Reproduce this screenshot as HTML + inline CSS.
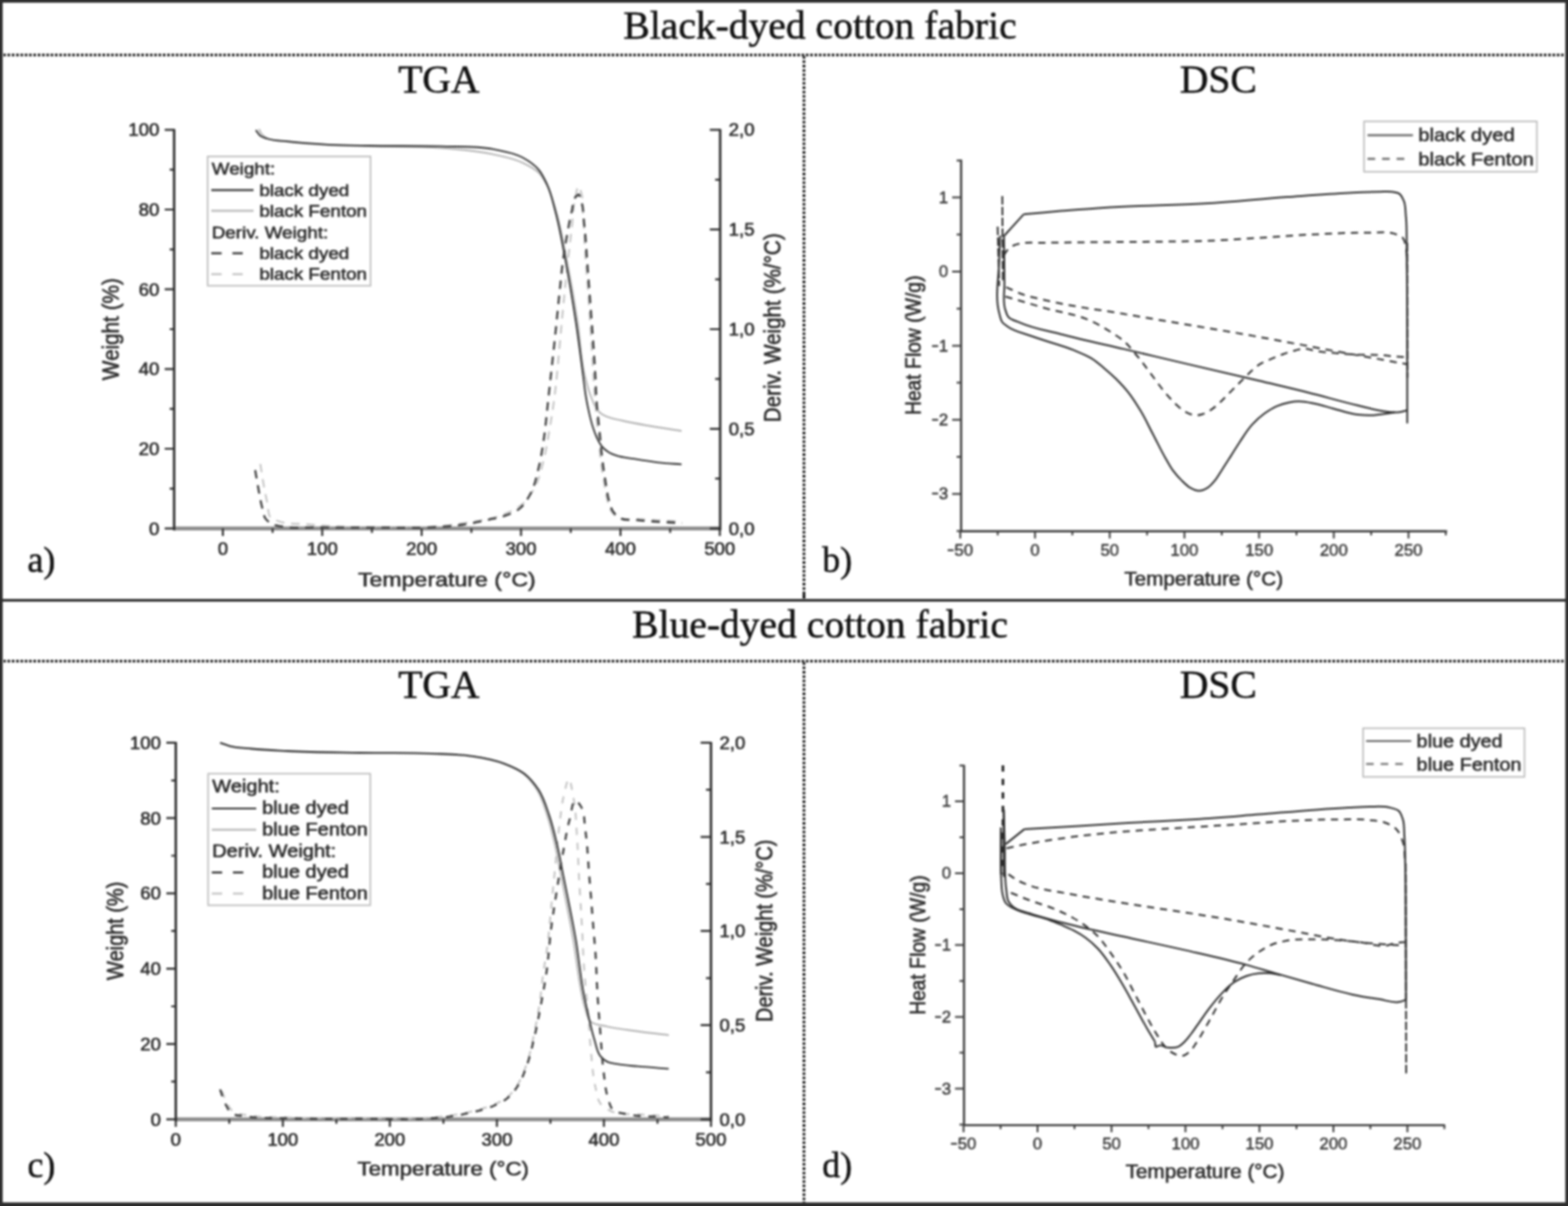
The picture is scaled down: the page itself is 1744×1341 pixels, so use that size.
<!DOCTYPE html>
<html lang="en">
<head>
<meta charset="utf-8">
<title>TGA and DSC of black-dyed and blue-dyed cotton fabric</title>
<style>
html,body{margin:0;padding:0;background:#fff;overflow:hidden;}
body{width:1744px;height:1341px;overflow:hidden;position:relative;font-family:"Liberation Serif", serif;color:#111;}
#figure{position:absolute;left:0;top:0;width:1744px;height:1341px;box-sizing:border-box;background:#fff;overflow:hidden;}
.frame{position:absolute;background:#2e2e2e;filter:blur(0.8px);}
svg.rules{filter:blur(0.8px);}
h1,h2{margin:0;font-weight:normal;position:absolute;white-space:nowrap;line-height:1;text-align:center;}
h1{font-size:44px;left:0;width:1824px;}
h2{font-size:44px;width:300px;}
.tag{position:absolute;font-size:40px;line-height:1;white-space:nowrap;}
svg{position:absolute;left:0;top:0;overflow:visible;filter:blur(1px);}
svg text{font-family:"Liberation Sans", sans-serif;fill:#2b2b2b;stroke:#2b2b2b;stroke-width:0.6px;stroke-linejoin:round;}
h1,h2,.tag{filter:blur(0.8px);-webkit-text-stroke:0.55px #111;}
svg text.n{fill:#3d3d3d;stroke:#3d3d3d;stroke-width:0.55px;}
svg path{fill:none;}
</style>
</head>
<body>
<main id="figure">
<div class="frame" style="left:-6px;top:-6px;width:1756px;height:8.7px"></div>
<div class="frame" style="left:-6px;top:-6px;width:9.2px;height:1353px"></div>
<div class="frame" style="left:1740.5px;top:-6px;width:9px;height:1353px"></div>
<div class="frame" style="left:-6px;top:1337.1px;width:1756px;height:9px"></div>
<div class="frame" style="left:-6px;top:666.1px;width:1756px;height:3.1px"></div>
<svg class="rules" width="1744" height="1341" viewBox="0 0 1744 1341" aria-hidden="true"><g stroke="#000" stroke-width="2.8" stroke-dasharray="2.8 2"><path d="M3.6 61.1H1741"/><path d="M3.6 735.1H1741"/><path d="M894.2 62.5V666"/><path d="M894.2 660.2V666"/><path d="M894.2 736.5V1338"/></g></svg>
<h1 style="top:7.2px">Black-dyed cotton fabric</h1>
<h1 style="top:673.2px">Blue-dyed cotton fabric</h1>
<h2 style="left:338.2px;top:67.4px">TGA</h2>
<h2 style="left:1205.0px;top:67.4px">DSC</h2>
<h2 style="left:338.2px;top:740.4px">TGA</h2>
<h2 style="left:1205.0px;top:740.4px">DSC</h2>
<div class="tag" style="left:30.6px;top:602.7px">a)</div>
<div class="tag" style="left:914.5px;top:602.7px">b)</div>
<div class="tag" style="left:30.6px;top:1276.2px">c)</div>
<div class="tag" style="left:914.5px;top:1276.2px">d)</div>
<svg width="1744" height="1341" viewBox="0 0 1744 1341" role="img" aria-label="TGA of black-dyed cotton fabric">
<g stroke-linecap="butt" stroke-linejoin="round">
<path d="M193.7 587.6H801" stroke="#8a8a8a" stroke-width="4.3"/>
<path d="M288 143.5C289 145.3 289.7 147.4 291 149C292.6 150.9 294.9 152.3 297 153.5C303.4 157.3 311.9 156.4 319.4 157.5C334.5 159.7 349.9 160.3 365.2 161.2C380.4 162 395.7 162.2 411 162.6C437.3 163.3 463.8 162.4 490 164.5C509.7 166.1 529.6 167.3 548.8 171.6C559.7 174 571 176 581 180.8C587.4 183.9 594.4 187.2 599.3 192.2C603 196.1 605.8 201.2 608.4 206C613.2 214.9 615.6 225 618.5 234.7C623.9 252.6 626.8 271.3 630.5 289.7C635 312.5 639 335.5 642.5 358.5C645.5 378.3 645.8 398.6 650.5 418C652 424 653.5 430.1 655.5 436C656.8 439.7 658.1 443.4 659.7 446.9C661 449.7 662.1 452.7 663.9 455.1C665.4 457.2 667.3 459.1 669.4 460.6C671.8 462.3 674.8 463.1 677.6 464.1C682.1 465.7 686.8 466.4 691.4 467.5C700.5 469.6 709.7 471.3 718.9 473C731.9 475.4 745 477.1 758.1 479.2" stroke="#b4b4b4" stroke-width="1.9"/>
<path d="M289.5 515.8C290.7 523.1 291.7 530.4 293 537.6C294.4 545.3 295.9 553 297.6 560.6C298.7 565.6 297.7 572.3 301 575.5C303.1 577.6 307.1 578.5 310.2 579.6C320.2 583.2 331.6 582 342.3 583C354.8 584.1 367.4 585 380 585.6C393.3 586.2 406.7 586.2 420 586.3C440 586.4 460.1 587.1 480 585.6C493.4 584.6 506.8 583.3 520 581C534.4 578.5 549.4 576.9 562.6 571C569 568.1 575.8 565.1 581 560.6C586.7 555.7 591.1 548.8 594.7 542.2C599.3 533.8 601.4 524 603.9 514.7C607 503.4 608.7 491.8 610.7 480.3C613.4 465.1 615.7 449.8 617.6 434.4C619 423 619.9 411.5 621 400C622.6 383.1 624 366.3 625.6 349.4C627.1 334.1 628.6 318.8 630.2 303.5C632 286.7 634 269.8 636 253C637.5 240.8 637.5 228.2 640.6 216.3C641.4 213.2 642 206.4 643.3 207.2C644 207.6 644.9 210.2 645.6 211.7C649.3 220.1 647.8 230.1 648.6 239.3C649.8 253 650 266.8 650.9 280.6C652.1 299.7 653.7 318.8 655 337.9C656 353.2 657.1 368.5 658 383.8C658.7 395.2 659.3 406.6 660 418C660.6 427.3 661.3 436.7 662 446C662.9 457.3 663.9 468.7 665 480C666.1 491.6 667 503.2 668.5 514.7C669.5 522.4 670.7 530 672 537.6C673.1 543.8 673.8 550 675.5 556C676.7 560.3 677.5 565 680 568.6C681.8 571.2 684.4 573.8 687 575.5C693 579.3 701.9 576.5 709.4 577C725.8 578.1 742.3 579 758.7 580" stroke="#c2c2c2" stroke-width="2.0" stroke-dasharray="9.5 7.5"/>
<path d="M284.5 144.6C286.2 146.7 287.4 149.4 289.5 151C291.4 152.5 294.1 153.2 296.4 154C303.6 156.6 311.7 156.3 319.4 157.2C334.6 159 349.9 160 365.2 160.8C380.4 161.6 395.7 161.7 411 162C437.3 162.5 463.7 161.8 490 162.7C509.6 163.4 529.7 162.1 548.8 165.9C559.7 168.1 571.4 169.8 581 175C587.6 178.6 594.5 183.1 599.3 188.8C603.2 193.4 605.8 199.3 608.4 204.9C612.8 214.3 614.9 224.7 617.6 234.7C622.5 252.7 625.5 271.3 629 289.7C633.3 312.5 637.1 335.5 640.6 358.5C643.6 378.3 646 398.2 648.6 418C649.6 425.3 650.3 432.7 651.5 440C652.6 446.9 654 453.8 655.6 460.6C656.8 465.7 658 470.8 659.7 475.8C660.9 479.5 662.2 483.3 663.9 486.8C665.5 490.1 667.1 493.6 669.4 496.4C671.7 499.1 674.6 501.5 677.6 503.3C680.1 504.8 683.1 505.8 685.9 506.7C692 508.8 698.7 509.1 705.1 510.2C714.3 511.7 723.5 513.2 732.7 514.3C741.1 515.3 749.6 515.7 758.1 516.4" stroke="#303030" stroke-width="1.85"/>
<path d="M283.8 522.7C284.9 529.2 286 535.7 287.2 542.2C288.6 549.9 289.8 557.6 291.8 565.1C292.8 569 293.1 573.4 295.3 576.6C297 578.9 299.5 581 302 582.5C305.7 584.7 310.6 584.8 315 585.6C327.7 587.9 340.9 586.2 353.8 586.4C375.9 586.7 397.9 586.6 420 586.6C440 586.6 460 587.5 480 586.4C491.5 585.8 503 585.1 514.4 583.5C524.4 582.1 534.3 579.9 544.2 577.7C550.4 576.3 556.7 575.4 562.6 573.2C568.2 571.1 574.2 568.8 578.6 565C583.5 560.9 586.9 554.7 590 549C594.9 540 596.8 529.4 599.3 519.3C601.9 508.8 603.4 497.9 605 487.2C607 473.5 608.1 459.7 609.6 445.9C610.9 433.9 612.2 422 613.5 410C614.9 397.4 616.3 384.9 617.6 372.3C619.2 357 620.6 341.7 622.2 326.4C623.7 312.6 624.8 298.8 626.8 285.1C628.1 275.9 629.7 266.7 631.4 257.6C632.8 249.9 634.1 242.2 636 234.7C637.4 229.3 636.8 222.5 640.6 218.6C641.4 217.8 642.5 216.5 643.3 216.3C644.9 215.9 645.5 220.9 646.3 223.2C649.2 231.1 648.7 240 649.7 248.4C651.4 262.9 652.1 277.5 653.2 292C654.4 307.3 655.5 322.6 656.6 337.9C657.7 353.2 659 368.5 660 383.8C660.7 394.2 661.4 404.6 662 415C662.6 425.3 662.8 435.6 663.5 445.9C664.3 457.4 665.8 468.8 666.9 480.3C668.1 491.8 668.9 503.3 670.4 514.7C671.4 522.4 672.5 530 673.8 537.6C674.8 543.7 675.5 550 677.2 556C678.4 560.3 679.3 565 681.8 568.6C683.6 571.2 686.1 573.8 688.7 575.5C694.3 579.2 702.5 577.6 709.4 578.4C725.7 580.3 742.3 580.6 758.7 581.7" stroke="#3c3c3c" stroke-width="2.3" stroke-dasharray="9.5 7.5"/>
<path d="M193.7 143.4V589.8" stroke="#2e2e2e" stroke-width="2.7"/>
<path d="M801 143.4V589.8" stroke="#2e2e2e" stroke-width="2.7"/>
<path d="M193.7 587.6h-10.5M193.7 543.3h-5M193.7 499h-10.5M193.7 454.6h-5M193.7 410.3h-10.5M193.7 366h-5M193.7 321.7h-10.5M193.7 277.4h-5M193.7 233h-10.5M193.7 188.7h-5M193.7 144.4h-10.5M801 587.6h-11.5M801 532.2h-5.5M801 476.8h-11.5M801 421.4h-5.5M801 366h-11.5M801 310.6h-5.5M801 255.2h-11.5M801 199.8h-5.5M801 144.4h-11.5M303.2 587.6v5M413.7 587.6v5M524.3 587.6v5M634.8 587.6v5M745.4 587.6v5M247.9 587.6v8.5M358.4 587.6v8.5M469 587.6v8.5M579.5 587.6v8.5M690.1 587.6v8.5M800.6 587.6v8.5" stroke="#2e2e2e" stroke-width="2.2"/>
</g>
<text transform="translate(177.2 594.5) scale(1.070 1)" font-size="19.3" text-anchor="end">0</text>
<text transform="translate(177.2 505.9) scale(1.070 1)" font-size="19.3" text-anchor="end">20</text>
<text transform="translate(177.2 417.3) scale(1.070 1)" font-size="19.3" text-anchor="end">40</text>
<text transform="translate(177.2 328.6) scale(1.070 1)" font-size="19.3" text-anchor="end">60</text>
<text transform="translate(177.2 240) scale(1.070 1)" font-size="19.3" text-anchor="end">80</text>
<text transform="translate(177.2 151.3) scale(1.070 1)" font-size="19.3" text-anchor="end">100</text>
<text transform="translate(810.5 594.5) scale(1.070 1)" font-size="19.3">0,0</text>
<text transform="translate(810.5 483.7) scale(1.070 1)" font-size="19.3">0,5</text>
<text transform="translate(810.5 372.9) scale(1.070 1)" font-size="19.3">1,0</text>
<text transform="translate(810.5 262.1) scale(1.070 1)" font-size="19.3">1,5</text>
<text transform="translate(810.5 151.3) scale(1.070 1)" font-size="19.3">2,0</text>
<text transform="translate(247.9 617.2) scale(1.070 1)" font-size="19.3" text-anchor="middle">0</text>
<text transform="translate(358.4 617.2) scale(1.070 1)" font-size="19.3" text-anchor="middle">100</text>
<text transform="translate(469 617.2) scale(1.070 1)" font-size="19.3" text-anchor="middle">200</text>
<text transform="translate(579.5 617.2) scale(1.070 1)" font-size="19.3" text-anchor="middle">300</text>
<text transform="translate(690.1 617.2) scale(1.070 1)" font-size="19.3" text-anchor="middle">400</text>
<text transform="translate(800.6 617.2) scale(1.070 1)" font-size="19.3" text-anchor="middle">500</text>
<text transform="translate(497 651.7) scale(1.120 1)" font-size="23" text-anchor="middle">Temperature (°C)</text>
<text transform="translate(132 366) rotate(-90) scale(1 1.120)" font-size="23" text-anchor="middle">Weight (%)</text>
<text transform="translate(868 364.5) rotate(-90) scale(1 1.120)" font-size="23" text-anchor="middle">Deriv. Weight (%/°C)</text>
<rect x="231" y="174" width="181.2" height="143.7" fill="#fff" stroke="#bcbcbc" stroke-width="1.7"/>
<text transform="translate(235.5 194) scale(1.120 1)" font-size="18.7">Weight:</text>
<path d="M235 211.3H282" stroke="#3a3a3a" stroke-width="2.2"/>
<text transform="translate(288.4 217.6) scale(1.120 1)" font-size="18.7">black dyed</text>
<path d="M235 234.3H282" stroke="#b9b9b9" stroke-width="2.2"/>
<text transform="translate(288.4 240.6) scale(1.120 1)" font-size="18.7">black Fenton</text>
<text transform="translate(235.5 264.5) scale(1.120 1)" font-size="18.7">Deriv. Weight:</text>
<path d="M235 281.7H270" stroke="#333" stroke-width="2.2" stroke-dasharray="11.5 12"/>
<text transform="translate(288.4 288) scale(1.120 1)" font-size="18.7">black dyed</text>
<path d="M235 304.9H270" stroke="#c4c4c4" stroke-width="2.2" stroke-dasharray="11.5 12"/>
<text transform="translate(288.4 311.2) scale(1.120 1)" font-size="18.7">black Fenton</text>
</svg>
<svg width="1744" height="1341" viewBox="0 0 1744 1341" role="img" aria-label="DSC of black-dyed cotton fabric">
<g stroke-linecap="butt" stroke-linejoin="round">
<path d="M1116.5 284C1118 281.8 1119.2 279.3 1121 277.5C1122.8 275.7 1125 274.1 1127.3 273C1130.4 271.4 1134.2 271 1137.7 270.4C1145 269.1 1152.6 270.1 1160 270C1180 269.7 1200 269.5 1220 269.3C1246.7 269 1273.3 269 1300 268.6C1313.3 268.4 1326.7 268.3 1340 267.9C1360 267.2 1380 265.7 1400 264.5C1418.2 263.4 1436.5 261.9 1454.7 261C1477.6 259.9 1500.6 258.4 1523.5 258.8C1532.7 259 1542.5 256.8 1551 259.9C1554.2 261.1 1558.1 262.2 1560.2 264.5C1562.7 267.2 1562.9 272.1 1563.8 276C1565.5 283.8 1564.6 292 1565 300" stroke="#2e2e2e" stroke-width="2.0" stroke-dasharray="8 6.5"/>
<path d="M1119.1 319.3C1124.4 321.7 1129.6 324.4 1135 326.5C1144.5 330.1 1154.7 331.8 1164.6 334.2C1192.7 340.9 1221.5 344.2 1250 349.1C1300 357.7 1350.1 365.6 1400 374.6C1432.1 380.4 1464.2 386.6 1496.3 392.5C1515.5 396 1534.8 399.5 1554 403C1557.7 403.7 1561.3 404.3 1565 405" stroke="#2e2e2e" stroke-width="2.0" stroke-dasharray="8 6.5"/>
<path d="M1118.3 329.7C1133.7 334.2 1149.1 338.9 1164.6 343.2C1179.5 347.3 1195.2 349.1 1209.3 355.1C1219.7 359.5 1229.7 365.2 1239.1 371.5C1243.1 374.2 1247.3 376.8 1250.9 380C1255 383.7 1258.3 388.2 1261.9 392.4C1264.2 395.1 1266.6 397.8 1268.8 400.6C1271.7 404.2 1274.3 408 1277.1 411.7C1279.8 415.4 1282.6 419 1285.3 422.7C1288.1 426.4 1290.7 430.1 1293.6 433.7C1296.2 437 1298.9 440.2 1301.8 443.3C1304.5 446.2 1307.2 449 1310.1 451.6C1312.3 453.5 1314.5 455.6 1317 457.1C1319.2 458.4 1321.5 459.7 1323.9 460.5C1326.1 461.2 1328.4 461.9 1330.7 461.9C1333 461.9 1335.4 461.2 1337.6 460.5C1340.5 459.6 1343.3 458 1345.9 456.4C1349.4 454.3 1352.4 451.5 1355.5 448.8C1358.9 445.8 1361.9 442.4 1365.1 439.2C1368.3 436 1371.6 432.7 1374.8 429.5C1378 426.3 1381.2 423.1 1384.4 419.9C1387.2 417.2 1389.8 414.3 1392.7 411.7C1394.9 409.7 1397.1 407.8 1399.5 406.1C1403.8 403.1 1409 401.3 1413.8 399.2C1418.3 397.2 1422.9 395.3 1427.5 393.7C1432 392.1 1436.6 390.7 1441.3 389.5C1444.2 388.8 1447.1 387.8 1450 387.6C1455 387.3 1460 389.8 1465 390.6C1470.6 391.5 1476.3 391.8 1482 392.3C1491.3 393.1 1500.7 394 1510 394.4C1519.2 394.8 1528.4 394.3 1537.6 395C1542.1 395.3 1546.5 396 1551 396.4C1555.2 396.7 1559.5 396.9 1563.7 397.1" stroke="#2e2e2e" stroke-width="2.0" stroke-dasharray="8 6.5"/>
<path d="M1114.8 218L1115.4 312" stroke="#2e2e2e" stroke-width="2.0" stroke-dasharray="9.5 2.5"/>
<path d="M1109.6 252L1111.4 318" stroke="#2e2e2e" stroke-width="2.0" stroke-dasharray="9.5 2.5"/>
<path d="M1565.2 270L1565.4 420" stroke="#2e2e2e" stroke-width="2.0" stroke-dasharray="9.5 2.5"/>
<path d="M1116.6 262.5L1138.5 238.3" stroke="#2e2e2e" stroke-width="2.0"/>
<path d="M1138.5 238.3C1152.3 237.1 1166.2 235.8 1180 234.6C1193.6 233.5 1207.2 232.3 1220.8 231.4C1230.5 230.8 1240.3 230.3 1250 229.8C1280 228.3 1310 228.1 1340 226.3C1370.6 224.5 1401.1 221.2 1431.7 219C1454.7 217.4 1477.6 215.6 1500.6 214.5C1512.1 214 1523.5 213.3 1535 213.2C1539.3 213.2 1543.7 212.7 1548 213.3C1550.7 213.7 1553.9 213.8 1556 215.2C1558.5 216.8 1560 220.3 1561.3 223.2C1563.5 228 1563 233.9 1563.6 239.3C1565.1 253 1564.4 266.8 1564.6 280.6C1565 303.5 1565 326.5 1565.1 349.4C1565.2 372.9 1565.2 396.5 1565.2 420C1565.2 436.9 1565.2 453.8 1565.2 470.7" stroke="#2e2e2e" stroke-width="2.0"/>
<path d="M1565 456.3C1562.7 456.9 1560.5 457.6 1558.2 458C1556 458.4 1553.7 458.6 1551.4 458.6C1546.8 458.7 1542.2 457.7 1537.6 457C1528.3 455.6 1519.2 453 1510 450.8C1491.6 446.4 1473.4 441.1 1455 436.5C1436.7 431.9 1418.3 427.7 1400 423.3C1373.4 417 1346.7 410.9 1320 404.6C1296.7 399.1 1273.3 393.6 1250 388.1C1226.5 382.6 1202.8 377.7 1179.5 371.5C1164.5 367.5 1148.8 365.1 1134.7 358.8C1130.2 356.8 1124.2 355.8 1121.3 352.1C1119.5 349.7 1118.7 346.2 1117.8 343.2C1115.2 334.3 1117.3 324.4 1117.2 315C1117.1 306.5 1117.1 298 1117 289.5C1116.9 280.5 1116.7 271.5 1116.6 262.5" stroke="#2e2e2e" stroke-width="2.0"/>
<path d="M1112.5 262C1112.1 271.2 1111.6 280.3 1111.4 289.5C1110.9 309.3 1106.2 330 1111.6 349C1112.5 352 1112.8 355.5 1114.6 358C1115.9 359.8 1118 361.1 1119.8 362.5C1128.2 369 1139.6 370.8 1149.6 374.5C1164.3 380 1179.9 383.3 1194.4 389.4C1201 392.2 1207.8 394.7 1213.8 398.4C1218.7 401.4 1223.1 405.2 1227.5 408.9C1232.3 412.8 1236.9 417 1241.3 421.3C1246.1 426.1 1250.8 431.1 1255 436.4C1260.1 442.9 1264.5 450 1268.8 457.1C1273.9 465.5 1278 474.5 1282.6 483.2C1287.2 491.9 1291.4 500.9 1296.3 509.4C1299 514 1301.4 518.8 1304.6 523.1C1307.5 527 1310.7 530.7 1314.2 534.1C1317.2 537.1 1320.2 540.4 1323.9 542.4C1326.8 544 1330.3 545.8 1333.5 545.8C1336.7 545.8 1340.3 544.1 1343.1 542.4C1346.4 540.4 1348.9 537.1 1351.4 534.1C1354.6 530.3 1356.9 525.8 1359.6 521.7C1362.9 516.7 1366.1 511.6 1369.3 506.6C1372.5 501.6 1375.6 496.5 1378.9 491.5C1383.3 484.9 1387.4 478 1392.7 472.2C1396.8 467.7 1401.4 463.4 1406.4 459.8C1410.7 456.7 1415.3 453.7 1420.2 451.6C1424.5 449.7 1429.2 448.3 1433.9 447.4C1437.2 446.8 1440.6 446.3 1444 446.2C1450 446 1456 447.5 1461.9 448.7C1468.9 450.1 1475.7 452.4 1482.6 454.2C1491.7 456.6 1500.7 460 1510 461.1C1514.6 461.6 1519.2 461.9 1523.8 461.8C1528.4 461.7 1533 460.9 1537.6 460.4C1542.2 459.9 1546.8 459.2 1551.4 458.6" stroke="#2e2e2e" stroke-width="2.0"/>
<path d="M1069 177.5V590.8H1609.5" stroke="#3c3c3c" stroke-width="2.4"/>
<path d="M1069 178.4h-5M1069 219.6h-10M1069 260.8h-5M1069 302h-10M1069 343.2h-5M1069 384.4h-10M1069 425.6h-5M1069 466.8h-10M1069 508h-5M1069 549.2h-10M1069 590.4h-5M1068.1 590.8v8M1109.7 590.8v4.5M1151.2 590.8v8M1192.7 590.8v4.5M1234.3 590.8v8M1275.8 590.8v4.5M1317.4 590.8v8M1358.9 590.8v4.5M1400.4 590.8v8M1442 590.8v4.5M1483.5 590.8v8M1525.1 590.8v4.5M1566.6 590.8v8M1608.1 590.8v4.5" stroke="#3c3c3c" stroke-width="2.0"/>
</g>
<text transform="translate(1054.7 225.8) scale(0.980 1)" font-size="19" text-anchor="end" class="n">1</text>
<text transform="translate(1054.7 308.2) scale(0.980 1)" font-size="19" text-anchor="end" class="n">0</text>
<text transform="translate(1054.7 390.6) scale(0.980 1)" font-size="19" text-anchor="end" class="n">1</text>
<text transform="translate(1043.9 390.6) scale(0.686 1)" font-size="19" text-anchor="end" class="n">−</text>
<text transform="translate(1054.7 473) scale(0.980 1)" font-size="19" text-anchor="end" class="n">2</text>
<text transform="translate(1043.9 473) scale(0.686 1)" font-size="19" text-anchor="end" class="n">−</text>
<text transform="translate(1054.7 555.4) scale(0.980 1)" font-size="19" text-anchor="end" class="n">3</text>
<text transform="translate(1043.9 555.4) scale(0.686 1)" font-size="19" text-anchor="end" class="n">−</text>
<text transform="translate(1082.3 618) scale(0.980 1)" font-size="19" text-anchor="end" class="n">50</text>
<text transform="translate(1061.2 618) scale(0.686 1)" font-size="19" text-anchor="end" class="n">−</text>
<text transform="translate(1156.4 618) scale(0.980 1)" font-size="19" text-anchor="end" class="n">0</text>
<text transform="translate(1244.6 618) scale(0.980 1)" font-size="19" text-anchor="end" class="n">50</text>
<text transform="translate(1332.9 618) scale(0.980 1)" font-size="19" text-anchor="end" class="n">100</text>
<text transform="translate(1416 618) scale(0.980 1)" font-size="19" text-anchor="end" class="n">150</text>
<text transform="translate(1499 618) scale(0.980 1)" font-size="19" text-anchor="end" class="n">200</text>
<text transform="translate(1582.1 618) scale(0.980 1)" font-size="19" text-anchor="end" class="n">250</text>
<text transform="translate(1338.8 650.6) scale(1.070 1)" font-size="21.5" text-anchor="middle">Temperature (°C)</text>
<text transform="translate(1024.2 384) rotate(-90) scale(1 1.070)" font-size="21.5" text-anchor="middle">Heat Flow (W/g)</text>
<rect x="1517.2" y="135" width="192.2" height="56" fill="#fff" stroke="#bcbcbc" stroke-width="1.7"/>
<path d="M1521 150.4H1571.5" stroke="#666" stroke-width="2.2"/>
<path d="M1521 176.6H1563.5" stroke="#666" stroke-width="2.2" stroke-dasharray="8.5 7.7"/>
<text transform="translate(1577.4 157.4) scale(1.070 1)" font-size="21">black dyed</text>
<text transform="translate(1577.4 183.6) scale(1.070 1)" font-size="21">black Fenton</text>
</svg>
<svg width="1744" height="1341" viewBox="0 0 1744 1341" role="img" aria-label="TGA of blue-dyed cotton fabric">
<g stroke-linecap="butt" stroke-linejoin="round">
<path d="M195.5 1244.6H790.8" stroke="#8a8a8a" stroke-width="4.3"/>
<path d="M244.8 826.4C248.2 827.5 251.6 828.9 255 829.8C263.1 832 271.6 832.1 280 833C293.1 834.3 306.3 834.8 319.4 835.5C346.2 836.9 373.1 837 400 837.5C426.7 838 453.4 837.1 480 838.3C495.3 839 510.8 838.9 525.9 841.3C537.5 843.1 549.4 845.1 560.3 849.3C567.8 852.2 575.8 855.4 582 860.3C588.1 865.2 593.3 871.9 597.5 878.6C602.7 886.9 605.4 896.8 608.5 906.1C612.3 917.3 614.9 929 617.5 940.5C620.1 951.9 622 963.4 624.3 974.9C626.5 986.4 628.8 997.8 631 1009.3C633.3 1021.5 635.8 1033.7 637.8 1046C639.6 1056.7 640.9 1067.4 642.5 1078.1C643.3 1083.5 644 1089 645 1094.4C646.5 1103 647.9 1111.7 650.5 1120C652.2 1125.3 653 1132.1 656.6 1135.7C660.7 1139.8 668.8 1139.8 675 1141.4C686.2 1144.2 697.9 1145.1 709.4 1146.7C720.8 1148.3 732.3 1149.6 743.8 1151" stroke="#b4b4b4" stroke-width="1.9"/>
<path d="M247 1213C249 1218 250.2 1223.5 253 1228C254.9 1231.1 257.2 1234.5 260 1236.5C264.2 1239.5 270.6 1239.1 276 1240C290.4 1242.5 305.3 1241.9 320 1242.5C346.6 1243.5 373.3 1243 400 1243C426.7 1243 453.5 1244.8 480 1242.5C487.7 1241.8 495.4 1241.2 503 1240C510.7 1238.8 518.4 1237.4 525.9 1235.5C533.6 1233.6 541.5 1231.7 548.8 1228.5C554.4 1226 560.3 1223.4 564.9 1219.5C569.5 1215.6 573.1 1210.2 576.3 1205C580.3 1198.5 582.9 1191.2 585.5 1184C589.5 1173 591.5 1161.4 594 1150C596.3 1139.1 598.3 1128 600 1117C601.9 1104.7 602.7 1092.3 604.5 1080C605.7 1071.7 607.3 1063.5 608.4 1055.2C610.5 1040 611.5 1024.7 613 1009.4C614.5 994.1 616.1 978.8 617.6 963.5C619.1 948.2 620.3 932.8 622.2 917.6C623.6 906.7 624.5 895.7 627 885C628.5 878.6 630.8 866.7 632.5 866C634.6 865.2 636.8 881.9 638.3 890C640.6 902.8 640.8 916 641.7 929C642.8 944.3 643.2 959.7 644 975C645 994.1 646.4 1013.2 647.4 1032.3C648.2 1047.5 648.6 1062.8 649.7 1078C650.9 1095 652.9 1111.9 654.3 1128.8C655.6 1144.1 656.2 1159.4 657.8 1174.7C659 1186.2 659.6 1197.8 662.3 1209C663.8 1215.2 664.2 1222.7 668 1227.4C670.8 1230.9 675.4 1233.5 679.5 1235.5C688.3 1239.8 699.4 1238.1 709.4 1239C720.8 1240 732.3 1240.3 743.8 1241" stroke="#c2c2c2" stroke-width="2.0" stroke-dasharray="8 8.8"/>
<path d="M244.8 825.9C248.2 827 251.6 828.4 255 829.3C263.1 831.5 271.6 831.6 280 832.5C293.1 833.8 306.3 834.3 319.4 835C346.2 836.4 373.1 836.5 400 837C426.7 837.5 453.4 836.6 480 837.8C495.3 838.5 510.8 838.4 525.9 840.8C537.5 842.6 549.4 844.6 560.3 848.8C568.2 851.8 576.6 855.1 583.2 860.3C589.5 865.2 594.9 871.9 599.3 878.6C604.6 886.8 607.5 896.7 610.7 906.1C614.6 917.3 617.2 928.9 619.9 940.5C622.6 951.9 624.5 963.4 626.8 974.9C629.1 986.4 631.5 997.8 633.7 1009.3C636.1 1021.5 638.6 1033.7 640.6 1046C642.3 1056.7 643.6 1067.4 645.1 1078.1C645.9 1083.5 646.5 1089 647.4 1094.4C649.2 1105.9 651.7 1117.4 654.3 1128.8C656.4 1138 658.3 1147.3 661.2 1156.3C663.2 1162.5 663.8 1169.9 668 1174.7C669.9 1176.9 672.4 1179 675 1180.4C678.4 1182.2 682.6 1182.4 686.4 1183.2C693.9 1184.7 701.7 1185 709.4 1185.7C720.8 1186.8 732.3 1187.5 743.8 1188.4" stroke="#303030" stroke-width="1.85"/>
<path d="M244.8 1211.4C246.7 1216.7 248 1222.4 250.6 1227.4C252.5 1231 254.4 1235.5 257.4 1237.8C261.4 1240.9 268.1 1240.3 273.5 1241.2C288.8 1243.8 304.5 1243 320 1243.5C346.6 1244.4 373.3 1244 400 1244C426.7 1244 453.4 1245.6 480 1243.5C487.7 1242.9 495.4 1242.3 503 1241.2C510.7 1240 518.4 1238.5 525.9 1236.6C533.6 1234.7 541.6 1232.9 548.8 1229.7C554.4 1227.2 560.3 1224.5 564.9 1220.6C569.4 1216.8 573.1 1211.8 576.3 1206.8C580.4 1200.5 582.9 1193.1 585.5 1186C589.6 1174.9 592 1163.2 594.7 1151.7C597.4 1140.3 599.5 1128.8 601.6 1117.3C603.9 1104.9 606.2 1092.5 608 1080C610.2 1064.2 611 1048.2 613 1032.3C615 1017 617.5 1001.7 619.9 986.4C622.1 972.6 624.2 958.8 626.8 945C628.9 933.5 630.5 921.9 633.7 910.7C635.7 903.7 636.7 888 640.6 890C642.2 890.8 644.8 894.5 646.3 897C650.7 904.1 649.6 913.8 650.9 922.2C653.5 939.7 654 957.4 655.5 975C657.1 994 658.5 1013 660 1032C660.8 1041.3 661.6 1050.7 662.3 1060C663.4 1075.3 663.6 1090.6 664.6 1105.9C665.5 1121.2 666.8 1136.4 668 1151.7C669.1 1165.5 669.7 1179.3 671.5 1193C672.7 1202.2 673.2 1211.8 676.1 1220.6C677.6 1225.3 678.6 1231.2 681.8 1234.3C685.5 1237.8 692.5 1237.7 697.9 1238.9C712.8 1242.3 728.5 1241.2 743.8 1242.4" stroke="#3c3c3c" stroke-width="2.3" stroke-dasharray="8 8.8"/>
<path d="M195.5 824.9V1246.8" stroke="#2e2e2e" stroke-width="2.7"/>
<path d="M790.8 824.9V1246.8" stroke="#2e2e2e" stroke-width="2.7"/>
<path d="M195.5 1244.6h-10.5M195.5 1202.7h-5M195.5 1160.9h-10.5M195.5 1119h-5M195.5 1077.1h-10.5M195.5 1035.2h-5M195.5 993.4h-10.5M195.5 951.5h-5M195.5 909.6h-10.5M195.5 867.8h-5M195.5 825.9h-10.5M790.8 1244.6h-11.5M790.8 1192.3h-5.5M790.8 1139.9h-11.5M790.8 1087.6h-5.5M790.8 1035.2h-11.5M790.8 982.9h-5.5M790.8 930.6h-11.5M790.8 878.2h-5.5M790.8 825.9h-11.5M255 1244.6v5M374.1 1244.6v5M493.2 1244.6v5M612.2 1244.6v5M731.3 1244.6v5M195.5 1244.6v8.5M314.6 1244.6v8.5M433.6 1244.6v8.5M552.7 1244.6v8.5M671.7 1244.6v8.5M790.8 1244.6v8.5" stroke="#2e2e2e" stroke-width="2.2"/>
</g>
<text transform="translate(179 1251.5) scale(1.070 1)" font-size="19.3" text-anchor="end">0</text>
<text transform="translate(179 1167.8) scale(1.070 1)" font-size="19.3" text-anchor="end">20</text>
<text transform="translate(179 1084.1) scale(1.070 1)" font-size="19.3" text-anchor="end">40</text>
<text transform="translate(179 1000.3) scale(1.070 1)" font-size="19.3" text-anchor="end">60</text>
<text transform="translate(179 916.6) scale(1.070 1)" font-size="19.3" text-anchor="end">80</text>
<text transform="translate(179 832.8) scale(1.070 1)" font-size="19.3" text-anchor="end">100</text>
<text transform="translate(800.3 1251.5) scale(1.070 1)" font-size="19.3">0,0</text>
<text transform="translate(800.3 1146.9) scale(1.070 1)" font-size="19.3">0,5</text>
<text transform="translate(800.3 1042.2) scale(1.070 1)" font-size="19.3">1,0</text>
<text transform="translate(800.3 937.5) scale(1.070 1)" font-size="19.3">1,5</text>
<text transform="translate(800.3 832.8) scale(1.070 1)" font-size="19.3">2,0</text>
<text transform="translate(195.5 1273.5) scale(1.070 1)" font-size="19.3" text-anchor="middle">0</text>
<text transform="translate(314.6 1273.5) scale(1.070 1)" font-size="19.3" text-anchor="middle">100</text>
<text transform="translate(433.6 1273.5) scale(1.070 1)" font-size="19.3" text-anchor="middle">200</text>
<text transform="translate(552.7 1273.5) scale(1.070 1)" font-size="19.3" text-anchor="middle">300</text>
<text transform="translate(671.7 1273.5) scale(1.070 1)" font-size="19.3" text-anchor="middle">400</text>
<text transform="translate(790.8 1273.5) scale(1.070 1)" font-size="19.3" text-anchor="middle">500</text>
<text transform="translate(493 1306.8) scale(1.120 1)" font-size="22.2" text-anchor="middle">Temperature (°C)</text>
<text transform="translate(137 1035) rotate(-90) scale(1 1.120)" font-size="22.2" text-anchor="middle">Weight (%)</text>
<text transform="translate(858.5 1035) rotate(-90) scale(1 1.120)" font-size="22.2" text-anchor="middle">Deriv. Weight (%/°C)</text>
<rect x="231.5" y="860.3" width="180.3" height="146.3" fill="#fff" stroke="#bcbcbc" stroke-width="1.7"/>
<text transform="translate(236 881.3) scale(1.150 1)" font-size="19.4">Weight:</text>
<path d="M235.6 899H285" stroke="#3a3a3a" stroke-width="2.2"/>
<text transform="translate(291.4 905.3) scale(1.150 1)" font-size="19.4">blue dyed</text>
<path d="M235.6 922.6H285" stroke="#b9b9b9" stroke-width="2.2"/>
<text transform="translate(291.4 928.9) scale(1.150 1)" font-size="19.4">blue Fenton</text>
<text transform="translate(236 952.7) scale(1.150 1)" font-size="19.4">Deriv. Weight:</text>
<path d="M235.6 970.1H270.6" stroke="#333" stroke-width="2.2" stroke-dasharray="11.5 12"/>
<text transform="translate(291.4 976.4) scale(1.150 1)" font-size="19.4">blue dyed</text>
<path d="M235.6 993.6H270.6" stroke="#c4c4c4" stroke-width="2.2" stroke-dasharray="11.5 12"/>
<text transform="translate(291.4 999.9) scale(1.150 1)" font-size="19.4">blue Fenton</text>
</svg>
<svg width="1744" height="1341" viewBox="0 0 1744 1341" role="img" aria-label="DSC of blue-dyed cotton fabric">
<g stroke-linecap="butt" stroke-linejoin="round">
<path d="M1119.6 943.2C1124.9 942.1 1130.1 940.9 1135.4 939.8C1143.2 938.2 1151 936.9 1158.8 935.6C1167.9 934.1 1177.1 932.7 1186.3 931.5C1200 929.6 1213.8 928.1 1227.6 926.7C1241.3 925.3 1255.1 924.3 1268.9 923.3C1289.2 921.8 1309.6 920.8 1330 919.5C1346.7 918.5 1363.3 917.5 1380 916.4C1397.2 915.3 1414.5 913.9 1431.7 913C1450.8 912.1 1469.9 911.2 1489 911.2C1500.5 911.2 1512.1 910.5 1523.5 911.9C1529.6 912.7 1536.2 913 1541.8 915.3C1545.9 917 1550.3 919.1 1553.3 922.2C1556.7 925.8 1558.6 931.2 1560.2 936C1562.8 943.5 1562.1 952 1563 960" stroke="#2e2e2e" stroke-width="2.0" stroke-dasharray="8 6.5"/>
<path d="M1121.7 972.1C1125.1 974.4 1128.4 977 1132 979C1136.1 981.3 1140.6 982.9 1145 984.5C1158.2 989.4 1172.5 990.7 1186.3 993.4C1200 996.1 1213.8 998.3 1227.6 1000.6C1245.9 1003.7 1264.3 1006.5 1282.7 1009.3C1298.5 1011.7 1314.3 1013.9 1330 1016.4C1353.4 1020.1 1376.7 1024.1 1400 1028.3C1414.9 1031 1429.8 1033.8 1444.7 1036.5C1459.6 1039.2 1474.5 1042.4 1489.5 1044.7C1496.9 1045.8 1504.4 1046.9 1511.9 1047.7C1521.2 1048.7 1530.6 1049.3 1540 1050C1547.5 1050.6 1555.1 1051 1562.6 1051.5" stroke="#2e2e2e" stroke-width="2.0" stroke-dasharray="8 6.5"/>
<path d="M1124.4 992.7C1131.3 995.5 1138.1 998.4 1145 1001C1154.1 1004.5 1163.6 1006.8 1172.6 1010.6C1179.6 1013.6 1186.6 1016.7 1193.2 1020.5C1198.1 1023.3 1203 1026.3 1207.5 1029.6C1212.4 1033.2 1217.1 1037 1221.3 1041.3C1226.5 1046.7 1230.6 1053.1 1235 1059.2C1239.8 1065.9 1244.5 1072.7 1248.8 1079.8C1253.9 1088.2 1258 1097.3 1262.6 1106C1267.2 1114.7 1271.6 1123.5 1276.3 1132.1C1279.9 1138.6 1283.3 1145.2 1287.3 1151.4C1290.3 1156.1 1293 1161.3 1297 1165.1C1299.8 1167.8 1303 1170.5 1306.6 1172C1309.2 1173.1 1312.3 1174.4 1314.9 1174.1C1317.8 1173.8 1320.7 1171.3 1323.1 1169.3C1326.6 1166.4 1328.8 1162 1331.4 1158.2C1336.5 1150.8 1340.6 1142.7 1345.1 1134.9C1349.8 1126.7 1354 1118.2 1358.9 1110.1C1363.2 1103 1367.9 1096.2 1372.6 1089.4C1377.1 1082.9 1381 1075.9 1386.4 1070.2C1390.5 1065.9 1395.3 1061.9 1400.2 1058.5C1404.8 1055.3 1409.7 1052.4 1414.9 1050.3C1419.6 1048.4 1424.8 1047.2 1429.8 1046.2C1439.5 1044.3 1449.7 1044.6 1459.7 1044.5C1469.6 1044.4 1479.6 1044.8 1489.5 1045.5C1498 1046.1 1506.5 1047 1515 1048C1523.9 1049 1533 1053 1541.7 1051.5C1545.2 1050.9 1548.5 1049.2 1552 1048.5C1555.5 1047.8 1559.1 1047.8 1562.6 1047.4" stroke="#2e2e2e" stroke-width="2.0" stroke-dasharray="8 6.5"/>
<path d="M1563.4 960L1563.8 1112" stroke="#2e2e2e" stroke-width="2.0" stroke-dasharray="9.5 2.5"/>
<path d="M1563.8 1112L1564 1194" stroke="#2e2e2e" stroke-width="2.0" stroke-dasharray="9.5 2.5"/>
<path d="M1118.6 938.6L1139.5 921.9" stroke="#2e2e2e" stroke-width="2.0"/>
<path d="M1139.5 921.9C1159.7 920.7 1179.8 919.6 1200 918.4C1218.3 917.3 1236.7 916.1 1255 915C1280 913.5 1305 912.5 1330 910.9C1353.3 909.4 1376.7 907.4 1400 905.6C1421.3 903.9 1442.6 901.9 1463.9 900.4C1475.9 899.5 1488 898.6 1500 898C1507.8 897.6 1515.7 897 1523.5 897C1531.1 897 1539.1 896.1 1546.4 898.1C1549.5 899 1553.3 899.6 1555.6 901.6C1558 903.7 1559.1 907.5 1560.2 910.7C1562.2 916.4 1561.5 922.9 1562 929C1562.9 940.5 1562.7 952 1563 963.5C1563.6 989 1563.5 1014.5 1563.6 1040C1563.7 1064 1563.7 1088 1563.8 1112" stroke="#2e2e2e" stroke-width="2.0"/>
<path d="M1563.8 1111.6C1561.4 1112.4 1559 1113.6 1556.6 1114.1C1549.4 1115.7 1541.6 1112.2 1534.2 1111.1C1524.2 1109.6 1514.3 1108 1504.4 1105.9C1489.3 1102.7 1474.6 1098.1 1459.7 1094C1446.4 1090.3 1433.2 1086.4 1420 1082.6C1408.8 1079.4 1397.6 1076 1386.4 1072.9C1363.7 1066.7 1340.6 1061.7 1317.6 1056.4C1294.7 1051.1 1271.7 1046.4 1248.8 1041.3C1225.8 1036.1 1202.7 1031.6 1180 1025.5C1168.3 1022.4 1156.4 1019.5 1145 1015.5C1138.9 1013.4 1131.7 1012.6 1127 1008.5C1124.9 1006.7 1122.8 1004.4 1121.5 1002C1119.7 998.5 1119.9 994 1119.3 990C1116.8 973.5 1118 956.7 1117.5 940C1117.1 926.7 1116.8 913.3 1116.5 900" stroke="#2e2e2e" stroke-width="2.0"/>
<path d="M1113.5 925C1113.5 941.7 1112.4 958.4 1113.5 975C1114 982 1113.6 989.3 1115.5 996C1116.3 998.7 1116.9 1001.8 1118.5 1004C1120.3 1006.4 1123.4 1007.9 1126 1009.5C1131.7 1013 1138.6 1014.4 1145 1016.5C1152.2 1018.9 1159.8 1020.4 1167 1023C1171.4 1024.6 1175.7 1026.4 1180 1028.2C1184.6 1030.2 1189.3 1032.1 1193.8 1034.4C1198.5 1036.9 1203.2 1039.6 1207.5 1042.7C1212.5 1046.3 1217.1 1050.5 1221.3 1055C1226.4 1060.4 1230.7 1066.7 1235 1072.9C1240 1080 1244.4 1087.5 1248.8 1095C1253.6 1103.1 1258 1111.5 1262.6 1119.7C1267.2 1128 1271.5 1136.3 1276.3 1144.5C1279 1149.1 1281.8 1153.7 1284.6 1158.3" stroke="#2e2e2e" stroke-width="2.0"/>
<path d="M1284.6 1158.3L1285.3 1164.4" stroke="#2e2e2e" stroke-width="2.0"/>
<path d="M1285.3 1164.4C1286.9 1163.7 1288.4 1162.6 1290 1162.4C1292.3 1162.1 1294.6 1163.9 1297 1164.4C1299.3 1164.8 1301.6 1165.2 1303.9 1165.1C1306.2 1165 1308.6 1164.7 1310.7 1163.8C1313.3 1162.7 1315.5 1160.3 1317.6 1158.3C1320.2 1155.8 1322.3 1152.8 1324.5 1150C1326.9 1146.9 1329.1 1143.6 1331.4 1140.4C1336 1134 1340.3 1127.3 1345.1 1121.1C1349.5 1115.4 1353.9 1109.7 1358.9 1104.6C1363.2 1100.2 1367.5 1095.6 1372.6 1092.2C1376.8 1089.4 1381.6 1087 1386.4 1085.3C1390.8 1083.8 1395.5 1082.8 1400.2 1082.3C1404.7 1081.8 1409.4 1081.9 1413.9 1082.3C1417.6 1082.6 1421.3 1083.6 1425 1084.2" stroke="#2e2e2e" stroke-width="2.0"/>
<path d="M1116.2 902L1116.6 975" stroke="#2e2e2e" stroke-width="2.0"/>
<path d="M1113.2 920L1113.4 972" stroke="#2e2e2e" stroke-width="2.0"/>
<path d="M1115.5 851L1115.5 972" stroke="#2a2a2a" stroke-width="3.0" stroke-dasharray="7 8"/>
<path d="M1072.2 850.5V1251.1H1607.2" stroke="#3c3c3c" stroke-width="2.4"/>
<path d="M1072.2 851.2h-5M1072.2 891.1h-10M1072.2 931.1h-5M1072.2 971h-10M1072.2 1010.9h-5M1072.2 1050.8h-10M1072.2 1090.8h-5M1072.2 1130.7h-10M1072.2 1170.6h-5M1072.2 1210.5h-10M1072.2 1250.5h-5M1071.7 1251.1v8M1112.9 1251.1v4.5M1154 1251.1v8M1195.1 1251.1v4.5M1236.3 1251.1v8M1277.4 1251.1v4.5M1318.5 1251.1v8M1359.7 1251.1v4.5M1400.8 1251.1v8M1442 1251.1v4.5M1483.1 1251.1v8M1524.2 1251.1v4.5M1565.4 1251.1v8M1606.5 1251.1v4.5" stroke="#3c3c3c" stroke-width="2.0"/>
</g>
<text transform="translate(1057.9 897.4) scale(0.980 1)" font-size="19" text-anchor="end" class="n">1</text>
<text transform="translate(1057.9 977.2) scale(0.980 1)" font-size="19" text-anchor="end" class="n">0</text>
<text transform="translate(1057.9 1057.1) scale(0.980 1)" font-size="19" text-anchor="end" class="n">1</text>
<text transform="translate(1047.1 1057.1) scale(0.686 1)" font-size="19" text-anchor="end" class="n">−</text>
<text transform="translate(1057.9 1136.9) scale(0.980 1)" font-size="19" text-anchor="end" class="n">2</text>
<text transform="translate(1047.1 1136.9) scale(0.686 1)" font-size="19" text-anchor="end" class="n">−</text>
<text transform="translate(1057.9 1216.8) scale(0.980 1)" font-size="19" text-anchor="end" class="n">3</text>
<text transform="translate(1047.1 1216.8) scale(0.686 1)" font-size="19" text-anchor="end" class="n">−</text>
<text transform="translate(1085.9 1277.8) scale(0.980 1)" font-size="19" text-anchor="end" class="n">50</text>
<text transform="translate(1064.8 1277.8) scale(0.686 1)" font-size="19" text-anchor="end" class="n">−</text>
<text transform="translate(1159.2 1277.8) scale(0.980 1)" font-size="19" text-anchor="end" class="n">0</text>
<text transform="translate(1246.6 1277.8) scale(0.980 1)" font-size="19" text-anchor="end" class="n">50</text>
<text transform="translate(1334.1 1277.8) scale(0.980 1)" font-size="19" text-anchor="end" class="n">100</text>
<text transform="translate(1416.4 1277.8) scale(0.980 1)" font-size="19" text-anchor="end" class="n">150</text>
<text transform="translate(1498.6 1277.8) scale(0.980 1)" font-size="19" text-anchor="end" class="n">200</text>
<text transform="translate(1580.9 1277.8) scale(0.980 1)" font-size="19" text-anchor="end" class="n">250</text>
<text transform="translate(1340.3 1309.8) scale(1.070 1)" font-size="21.5" text-anchor="middle">Temperature (°C)</text>
<text transform="translate(1029 1051) rotate(-90) scale(1 1.070)" font-size="21.5" text-anchor="middle">Heat Flow (W/g)</text>
<rect x="1516.1" y="809.7" width="179.5" height="54.1" fill="#fff" stroke="#bcbcbc" stroke-width="1.7"/>
<path d="M1519.4 824H1569.6" stroke="#666" stroke-width="2.2"/>
<path d="M1519.4 849.5H1561.6" stroke="#666" stroke-width="2.2" stroke-dasharray="8.5 7.7"/>
<text transform="translate(1575.6 831) scale(1.052 1)" font-size="21">blue dyed</text>
<text transform="translate(1575.6 856.5) scale(1.052 1)" font-size="21">blue Fenton</text>
</svg>
</main>
</body>
</html>
